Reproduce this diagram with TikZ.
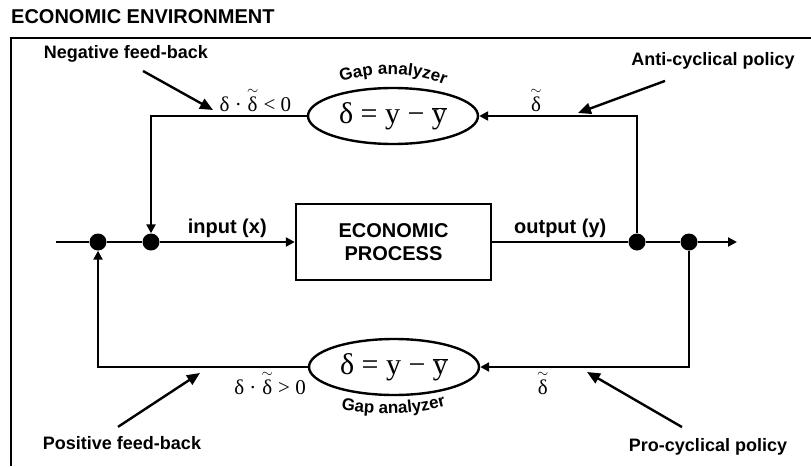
\documentclass[tikz,border=0pt]{standalone}
\usepackage{fontspec}
\setmainfont{Liberation Sans}
\newfontfamily\formfont{Liberation Serif}
\usetikzlibrary{arrows.meta,shapes.geometric,decorations.text}
\newcommand{\tdelta}{\ensuremath{{\stackrel{\sim}{\hbox{δ}}}}}

\tikzset{
  flow/.style={line width=2.4pt, -{Triangle[length=9pt,width=9pt]}},
  pointer/.style={line width=2.4pt, -{Triangle[length=13pt,width=11pt]}},
  junction/.style={circle, fill, inner sep=0pt, minimum size=17pt},
  gapbox/.style={ellipse, draw, line width=2.4pt, minimum width=170pt, minimum height=56pt,
    inner sep=0pt, font=\formfont\fontsize{30}{30}\selectfont},
  tag/.style={font=\bfseries\fontsize{18}{18}\selectfont},
  flowtag/.style={font=\bfseries\fontsize{20}{20}\selectfont},
  signtag/.style={font=\formfont\fontsize{21}{21}\selectfont},
  curvetag/.style={decorate, decoration={text along path, text align=center,
    text={|\bfseries\fontsize{17}{17}\selectfont|Gap analyzer}}}
}

\begin{document}
\begin{tikzpicture}[x=1pt, y=-1pt]
        \useasboundingbox (0,0) rectangle (811,466);

        % Environment
        \node[anchor=west, inner sep=0pt, font=\bfseries\fontsize{20}{20}\selectfont] (Title) at (11,17) {ECONOMIC ENVIRONMENT};
        \draw[line width=2.6pt] (11,466) |- (811,38);

        % Nodes
        \node[draw, line width=2.4pt, minimum width=195pt, minimum height=76pt, align=center,
              font=\bfseries\fontsize{20}{23}\selectfont] (Process) at (393.5,242) {ECONOMIC\\PROCESS};
        \coordinate (InStart) at (56,242);
        \coordinate (OutEnd) at (737,242);
        \node[junction] (JoinPos) at (98,242) {};
        \node[junction] (JoinNeg) at (151,242) {};
        \node[junction] (SplitAnti) at (637,242) {};
        \node[junction] (SplitPro) at (689,242) {};
        \node[gapbox] (GapTop) at (393,116) {δ = y − $\overline{\hbox{y}}$};
        \node[gapbox] (GapBottom) at (394,367) {δ = y − $\overline{\hbox{y}}$};

        % Gap analyzer captions
        \path[curvetag] (333,85) .. controls (372,70) and (414,70) .. (453,88);
        \path[curvetag] (338,409) .. controls (374,416) and (412,416) .. (449,405);

        % Main line
        \draw[flow] (InStart) -- (JoinPos) -- (JoinNeg) -- node[midway, above, flowtag] {input (x)} (Process.west);
        \draw[flow] (Process.east) -- node[midway, above, flowtag] {output (y)} (SplitAnti) -- (SplitPro) -- (OutEnd);

        % Feed-back loops
        \draw[flow] (SplitAnti) |- node[pos=0.82, above, signtag] {\tdelta} (GapTop.east);
        \draw[flow] (GapTop.west) -| node[pos=0.165, above, signtag] {δ · \tdelta{} < 0} (JoinNeg);
        \draw[flow] (SplitPro) |- node[pos=0.85, below, signtag] {\tdelta} (GapBottom.east);
        \draw[flow] (GapBottom.west) -| node[pos=0.09, below, signtag] {δ · \tdelta{} > 0} (JoinPos);

        % Pointers
        \node[tag] (NegLabel) at (126,54) {Negative feed-back};
        \node[tag] (AntiLabel) at (713,61) {Anti-cyclical policy};
        \node[tag] (PosLabel) at (122,443) {Positive feed-back};
        \node[tag] (ProLabel) at (708,447) {Pro-cyclical policy};
        \coordinate (NegTip) at (213,110);
        \coordinate (AntiTip) at (578,113);
        \coordinate (PosTip) at (200,373);
        \coordinate (ProTip) at (587,372);
        \draw[pointer] ([shift={(17,5)}]NegLabel.south) -- (NegTip);
        \draw[pointer] ([shift={(-48,8)}]AntiLabel.south) -- (AntiTip);
        \draw[pointer] ([shift={(-4,-6)}]PosLabel.north) -- (PosTip);
        \draw[pointer] ([shift={(-26,-8)}]ProLabel.north) -- (ProTip);
    \end{tikzpicture}
\end{document}
